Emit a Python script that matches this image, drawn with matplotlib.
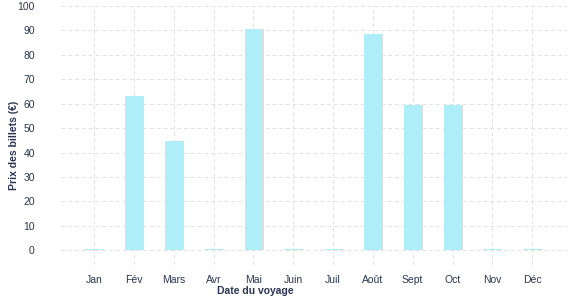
import matplotlib
matplotlib.use("Agg")
import matplotlib.pyplot as plt

plt.rcParams["font.family"] = ["Liberation Sans", "DejaVu Sans"]

MONTHS = ["Jan", "Fév", "Mars", "Avr", "Mai", "Juin", "Juil", "Août",
          "Sept", "Oct", "Nov", "Déc"]
PRICES = [0.5, 63.3, 44.7, 0.5, 90.6, 0.5, 0.5, 88.6, 59.4, 59.5, 0.5, 0.5]
Y_TICKS = [0, 10, 20, 30, 40, 50, 60, 70, 80, 90, 100]

TEXT = "#2b3553"
BAR = "#aeeef8"
SHADOW = "#dcdcdc"


def graph():
    fig = plt.figure(figsize=(5.77, 3.0), dpi=100)
    ax = fig.add_axes([0.106, 0.117, 0.877, 0.863])

    x = list(range(len(MONTHS)))
    # petite ombre grise à droite des barres
    ax.bar([i + 0.03 for i in x], PRICES, width=0.45, color=SHADOW, zorder=2)
    ax.bar(x, PRICES, width=0.45, color=BAR, zorder=3)

    ax.set_xlim(-0.83, 11.88)
    ax.set_ylim(-6, 100)
    ax.set_xticks(x)
    ax.set_xticklabels(MONTHS)
    ax.set_yticks(Y_TICKS)

    ax.grid(True, color="#e2e2e2", linestyle=(0, (4, 3)), linewidth=0.7, zorder=0)
    for s in ax.spines.values():
        s.set_visible(False)
    ax.tick_params(length=0, colors=TEXT, labelsize=7.5)
    ax.tick_params(axis="y", pad=19)
    ax.tick_params(axis="x", pad=7)

    ax.set_xlabel("Date du voyage", fontsize=7.5, fontweight="bold", color=TEXT)
    ax.set_ylabel("Prix des billets (€)", fontsize=7.5, fontweight="bold", color=TEXT)
    ax.xaxis.set_label_coords(0.383, -0.082)
    ax.yaxis.set_label_coords(-0.083, 0.463)

    plt.savefig("out.png", dpi=100)


if __name__ == "__main__":
    graph()
